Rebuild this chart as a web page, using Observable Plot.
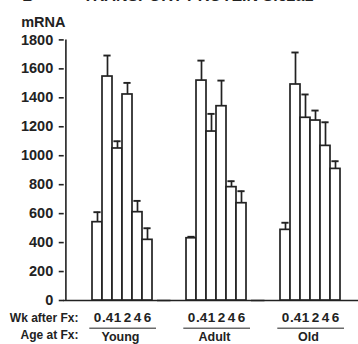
<!DOCTYPE html>
<html>
<head>
<meta charset="utf-8">
<script src="https://cdn.jsdelivr.net/npm/d3@7"></script>
<script src="https://cdn.jsdelivr.net/npm/@observablehq/plot@0.6"></script>
<style>
  html, body { margin: 0; padding: 0; background: #fff; }
  #chart svg { display: block; }
</style>
</head>
<body>
<div id="chart"></div>
<script>
// ---- data ----
const groups = ["Young", "Adult", "Old"];
const weeks = ["0", ".4", "1", "2", "4", "6"];
const youngValues = [541, 1547, 1050, 1423, 610, 419];
const youngErrTop = [610, 1692, 1100, 1503, 688, 499];
const adultValues = [430, 1519, 1167, 1342, 783, 672];
const adultErrTop = [440, 1657, 1289, 1519, 824, 755];
const oldValues = [488, 1492, 1262, 1243, 1068, 909];
const oldErrTop = [537, 1713, 1423, 1312, 1231, 962];
const yTicks = [0, 200, 400, 600, 800, 1000, 1200, 1400, 1600, 1800];
const titleLetter = "B";
const titleText = "TRANSPORT PROTEIN Slc2a1";
const yLabel = "mRNA";
const wkLabel = "Wk after Fx:";
const ageLabel = "Age at Fx:";

const valuesByGroup = [youngValues, adultValues, oldValues];
const errByGroup = [youngErrTop, adultErrTop, oldErrTop];
const rows = groups.flatMap((g, gi) =>
  weeks.map((w, wi) => ({group: g, week: w, value: valuesByGroup[gi][wi], err: errByGroup[gi][wi]}))
);
const first = [{group: groups[0]}];

const ink = "#222";
const font = "Liberation Sans, Arial, Helvetica, sans-serif";

const chart = Plot.plot({
  width: 358,
  height: 344,
  marginTop: 39.4,
  marginBottom: 44,
  marginLeft: 63,
  marginRight: 3,
  style: {fontFamily: font, fontSize: "13px", fontWeight: "bold", color: ink, background: "#fff"},
  fx: {domain: groups, paddingInner: 0.324, paddingOuter: 0.206, align: 0.674, axis: null, label: null},
  x: {domain: weeks, padding: 0, axis: null},
  y: {domain: [0, 1800], label: null},
  marks: [
    // baseline across all groups
    Plot.ruleY([0], {insetLeft: -27, insetRight: -16.5, stroke: ink, strokeWidth: 1.6}),
    // y axis line
    Plot.ruleX(first, {fx: "group", x: () => weeks[0], y1: () => 0, y2: () => 1800, dx: -31.6, stroke: ink, strokeWidth: 1.6}),
    Plot.axisY({ticks: yTicks, tickFormat: d => String(d), tickSize: 5, tickPadding: 6, dx: -26.26, stroke: ink, strokeWidth: 1.6, fontSize: 14.5, fill: ink, label: null}),
    // error bars
    Plot.ruleX(rows, {fx: "group", x: "week", y1: "value", y2: "err", stroke: ink, strokeWidth: 1.7}),
    Plot.tickY(rows, {fx: "group", x: "week", y: "err", inset: 1.4, stroke: ink, strokeWidth: 1.9}),
    // bars
    Plot.barY(rows, {fx: "group", x: "week", y: "value", fill: "white", stroke: ink, strokeWidth: 1.7}),
    // week tick labels
    Plot.text(rows, {fx: "group", x: "week", text: "week", frameAnchor: "bottom", lineAnchor: "bottom", dy: 21.7, fontSize: 13.5, fill: ink}),
    // group underline
    Plot.ruleY([0], {dy: 27.7, insetLeft: -0.7, insetRight: -2, stroke: "#6a6a6a", strokeWidth: 1.5}),
    // group names
    Plot.text(groups, {fx: d => d, text: d => d, frameAnchor: "bottom", lineAnchor: "bottom", dx: -2, dy: 40.6, fontSize: 12.5, fill: ink}),
    // row labels
    Plot.text(first, {fx: "group", text: () => wkLabel, frameAnchor: "bottom-left", textAnchor: "end", lineAnchor: "bottom", dx: -12, dy: 21.7, fontSize: 12, fill: ink}),
    Plot.text(first, {fx: "group", text: () => ageLabel, frameAnchor: "bottom-left", textAnchor: "end", lineAnchor: "bottom", dx: -12, dy: 38.3, fontSize: 12, fill: ink}),
    // y label
    Plot.text(first, {fx: "group", text: () => yLabel, frameAnchor: "top-left", textAnchor: "start", lineAnchor: "bottom", dx: -69.3, dy: -12.7, fontSize: 14.5, fill: ink}),
    // title, clipped at the top edge as in the reference
    Plot.text(first, {fx: "group", text: () => titleLetter, frameAnchor: "top-left", textAnchor: "start", lineAnchor: "bottom", dx: -68.3, dy: -39.2, fontSize: 16, fill: ink}),
    Plot.text(first, {fx: "group", text: () => titleText, frameAnchor: "top-left", textAnchor: "start", lineAnchor: "bottom", dx: -7.5, dy: -39.2, fontSize: 16, fill: ink})
  ]
});
document.getElementById("chart").appendChild(chart);
</script>
</body>
</html>
